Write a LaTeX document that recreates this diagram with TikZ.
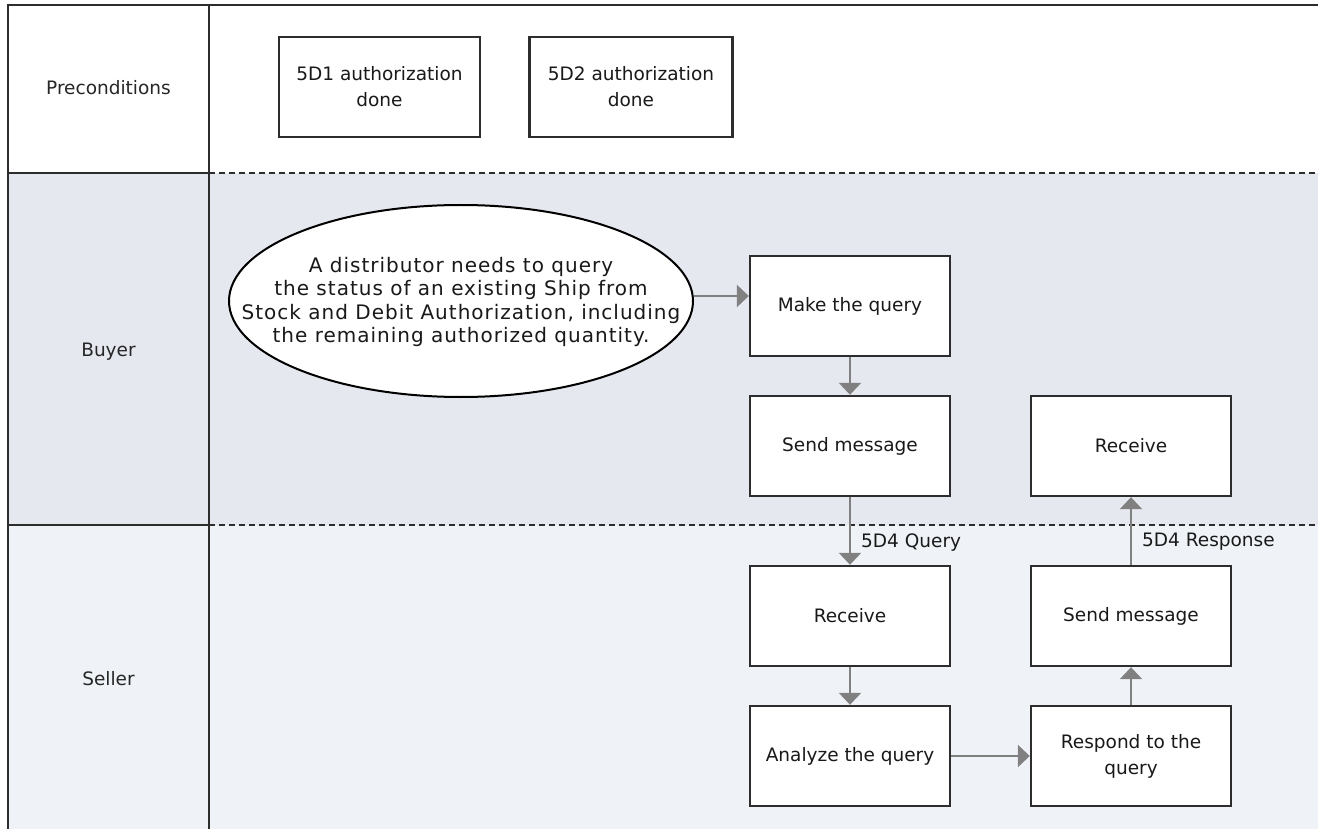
\documentclass[tikz,border=0pt]{standalone}
\usepackage{fontspec}
\setmainfont{DejaVu Sans}
\newfontfamily\ellfont[LetterSpace=5]{DejaVu Sans}
\usetikzlibrary{arrows.meta,calc,shapes.geometric}
\definecolor{buyerbg}{RGB}{230,232,240}
\definecolor{sellerbg}{RGB}{239,243,247}
\definecolor{framec}{RGB}{45,45,45}
\definecolor{arrc}{RGB}{128,128,128}
\tikzset{
  frame/.style={draw=framec, line width=2.4pt},
  lanesep/.style={draw=framec, line width=2.2pt, dash pattern=on 6pt off 4pt},
  stepbox/.style={draw=framec, line width=2.4pt, fill=white, minimum width=200pt,
    minimum height=100pt, inner sep=0pt, align=center, text=black!90,
    font=\fontsize{18.5}{26}\selectfont},
  lanelabel/.style={font=\fontsize{18.5}{22}\selectfont, text=black!85},
  arr/.style={draw=arrc, line width=2.4pt, -{Triangle[width=22pt,length=12pt]}},
  msglabel/.style={font=\fontsize{18.5}{22}\selectfont, anchor=west, xshift=9pt,
    inner sep=1pt, text=black!90},
  startell/.style={ellipse, draw=black, line width=2pt, fill=white,
    minimum width=464pt, minimum height=192pt, inner sep=0pt},
  elltext/.style={inner sep=0pt, align=center, text=black!90,
    font=\ellfont\fontsize{20}{23.3}\selectfont}
}
\begin{document}
\begin{tikzpicture}[x=1pt,y=-1pt]
\useasboundingbox (0,0) rectangle (1318,829);
\fill[white] (0,0) rectangle (1318,829);
\fill[buyerbg] (8,173) rectangle (1318,525);
\fill[sellerbg] (8,525) rectangle (1318,829);
\draw[frame] (1318,5) -- (8,5) -- (8,829);
\draw[frame] (209,5) -- (209,829);
\draw[frame] (8,173) -- (209,173);
\draw[frame] (8,525) -- (209,525);
\draw[lanesep] (209,173) -- (1318,173);
\draw[lanesep] (209,525) -- (1318,525);

\node[lanelabel] (lpre) at (108.5,88) {Preconditions};
\node[lanelabel] (lbuy) at (108.5,352) {Buyer};
\node[lanelabel] (lsel) at (108.5,679) {Seller};

\node[stepbox, minimum width=201pt] (p1) at (379.5,87) {5D1 authorization\\done};
\node[stepbox, minimum width=203pt] (p2) at (631,87) {5D2 authorization\\done};

\node[startell] (ell) at (461,301) {};
\node[elltext] (elltxt) at (461,302) {A distributor needs to query\\the status of an existing Ship from\\Stock and Debit Authorization, including\\the remaining authorized quantity.};

\node[stepbox] (mq) at (850,306) {Make the query};
\node[stepbox] (sm1) at (850,446) {Send message};
\node[stepbox] (rc1) at (1131,446) {Receive};
\node[stepbox] (rc2) at (850,616) {Receive};
\node[stepbox] (sm2) at (1131,616) {Send message};
\node[stepbox] (an) at (850,756) {Analyze the query};
\node[stepbox] (rs) at (1131,756) {Respond to the\\query};

\draw[arr] ($(ell.east)+(0,-5)$) -- ($(mq.west)+(0,-10)$);
\draw[arr] (mq) -- (sm1);
\draw[arr] (sm1) -- (rc2) node[msglabel, pos=0.67] (lq) {5D4 Query};
\draw[arr] (rc2) -- (an);
\draw[arr] (an) -- (rs);
\draw[arr] (rs) -- (sm2);
\draw[arr] (sm2) -- (rc1) node[msglabel, pos=0.34] (lr) {5D4 Response};
\end{tikzpicture}
\end{document}
